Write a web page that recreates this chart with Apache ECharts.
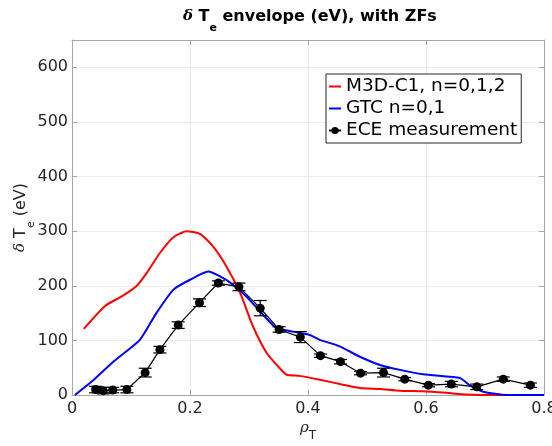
<!DOCTYPE html>
<html>
<head>
<meta charset="utf-8">
<script src="https://cdn.jsdelivr.net/npm/echarts@6/dist/echarts.min.js"></script>
<style>html,body{margin:0;padding:0;background:#fff}#c{width:552px;height:446px}</style>
</head>
<body>
<div id="c"></div>
<script>
// M3D-C1, n=0,1,2
var redX = [0.02,0.056,0.085,0.11,0.127,0.149,0.171,0.194,0.217,0.239,0.262,0.285,0.307,0.33,0.353,0.364,0.386,0.42,0.454,0.488,0.522,0.556,0.595,0.635,0.669,0.714,0.8];
var redY = [121,163,181,200,224,260,288,300,295,272,235,187,125,77,48,37,35,28,20,13,11,8,7,4,1,0,0];
// GTC n=0,1
var blueX = [0.005,0.036,0.07,0.115,0.143,0.172,0.2,0.231,0.251,0.273,0.296,0.319,0.345,0.375,0.403,0.42,0.454,0.488,0.522,0.556,0.595,0.635,0.658,0.675,0.697,0.737,0.8];
var blueY = [0,27,61,101,150,193,211,226,217,202,180,153,124,116,110,101,89,70,55,46,38,34,31,17,6,0,0];
// ECE measurement
var eceX = [0.04,0.053,0.069,0.093,0.124,0.149,0.18,0.216,0.248,0.283,0.319,0.351,0.387,0.421,0.455,0.489,0.528,0.564,0.604,0.643,0.686,0.731,0.777];
var eceY = [10,8,9,10,41,83,128,169,205,198,159,120,106,72,61,40,41,29,18,20,15,29,18];
var eceErr = [6,6,5,6,8,6,6,7,4,7,14,5,10,3,4,3,8,3,3,5,5,4,4];
var xTicks = [0,0.2,0.4,0.6,0.8];
var yTicks = [0,100,200,300,400,500,600];

var FONT = 'DejaVu Sans';
var AX = '#a8a8a8';
var TXT = '#262626';
function pairs(xs, ys){ return xs.map(function(x,i){ return [x, ys[i]]; }); }

var chart = echarts.init(document.getElementById('c'), null, {renderer:'canvas'});
var option = {
  animation: false,
  backgroundColor: '#fff',
  textStyle: {fontFamily: FONT},
  title: {
    left: 183, top: 9, padding: 0,
    text: '{d|δ}{b| T}{s|e}{b| envelope (eV), with ZFs}',
    textStyle: {
      rich: {
        d: {fontFamily: 'DejaVu Serif', fontStyle: 'italic', fontSize: 15, color: '#000', lineHeight: 25, verticalAlign: 'top'},
        b: {fontFamily: FONT, fontWeight: 'bold', fontSize: 16, color: '#000', lineHeight: 25, verticalAlign: 'top'},
        s: {fontFamily: FONT, fontWeight: 'bold', fontSize: 11, color: '#000', lineHeight: 25, verticalAlign: 'bottom'}
      }
    }
  },
  grid: {left: 72, right: 8, top: 40, bottom: 51, show: false, containLabel: false, outerBoundsMode: 'none'},
  legend: {
    orient: 'vertical', left: 326, top: 74,
    data: [
      {name: 'M3D-C1, n=0,1,2', itemStyle: {opacity: 0}},
      {name: 'GTC n=0,1', itemStyle: {opacity: 0}},
      {name: 'ECE measurement'}
    ],
    backgroundColor: '#fff', borderColor: '#262626', borderWidth: 1, borderRadius: 0,
    padding: [2, 4, 2, 2], itemGap: 1, itemWidth: 12, itemHeight: 9,
    textStyle: {fontFamily: FONT, fontSize: 18.5, color: '#000', lineHeight: 21}
  },
  xAxis: [{
    type: 'value', min: 0, max: 0.8, interval: 0.2,
    name: '{i|ρ}{s|T}', nameLocation: 'middle', nameGap: 26, nameMoveOverlap: false,
    nameTextStyle: {rich: {
      i: {fontFamily: 'DejaVu Serif', fontStyle: 'italic', fontSize: 15, color: TXT, lineHeight: 21, verticalAlign: 'top'},
      s: {fontFamily: FONT, fontSize: 12, color: TXT, lineHeight: 21, verticalAlign: 'bottom'}
    }},
    axisLine: {show: true, lineStyle: {color: AX, width: 1}},
    axisTick: {show: true, inside: true, length: 5, lineStyle: {color: AX}},
    axisLabel: {fontFamily: FONT, fontSize: 16, color: TXT, margin: 6,
      formatter: function(v){ return xTicks.indexOf(Math.round(v*10)/10) >= 0 ? String(Math.round(v*10)/10) : ''; }},
    splitLine: {show: true, lineStyle: {color: '#ececec', width: 1}}
  }, {
    type: 'value', min: 0, max: 0.8, interval: 0.2, position: 'top', gridIndex: 0,
    axisLine: {show: true, onZero: false, lineStyle: {color: AX, width: 1}},
    axisTick: {show: true, inside: true, length: 5, lineStyle: {color: AX}},
    axisLabel: {show: false}, splitLine: {show: false}
  }],
  yAxis: [{
    type: 'value', min: 0, max: 650, interval: 100,
    name: '{d|δ}{b| T}{s|e}{b| (eV)}', nameLocation: 'middle', nameGap: 35, nameRotate: 90, nameMoveOverlap: false,
    nameTextStyle: {rich: {
      d: {fontFamily: 'DejaVu Serif', fontStyle: 'italic', fontSize: 15, color: TXT, lineHeight: 24, verticalAlign: 'top'},
      b: {fontFamily: FONT, fontSize: 16, color: TXT, lineHeight: 24, verticalAlign: 'top'},
      s: {fontFamily: FONT, fontSize: 11, color: TXT, lineHeight: 24, verticalAlign: 'bottom'}
    }},
    axisLine: {show: true, lineStyle: {color: AX, width: 1}},
    axisTick: {show: true, inside: true, length: 5, lineStyle: {color: AX}},
    axisLabel: {fontFamily: FONT, fontSize: 16, color: TXT, margin: 4, showMaxLabel: false,
      formatter: function(v){ return yTicks.indexOf(v) >= 0 ? String(v) : ''; }},
    splitLine: {show: true, lineStyle: {color: '#ececec', width: 1}}
  }, {
    type: 'value', min: 0, max: 650, interval: 100, position: 'right',
    axisLine: {show: true, onZero: false, lineStyle: {color: AX, width: 1}},
    axisTick: {show: true, inside: true, length: 5, lineStyle: {color: AX}},
    axisLabel: {show: false}, splitLine: {show: false}
  }],
  series: [
    {
      name: 'M3D-C1, n=0,1,2', type: 'line', symbol: 'none', smooth: 0.2,
      data: pairs(redX, redY), color: '#ff0000',
      lineStyle: {color: '#ff0000', width: 2}, z: 3
    },
    {
      name: 'GTC n=0,1', type: 'line', symbol: 'none', smooth: 0.2,
      data: pairs(blueX, blueY), color: '#0000ff',
      lineStyle: {color: '#0000ff', width: 2}, z: 4
    },
    {
      type: 'custom', z: 5, silent: true,
      data: eceX.map(function(x,i){ return [x, eceY[i] - eceErr[i], eceY[i] + eceErr[i]]; }),
      renderItem: function(params, api){
        var lo = api.coord([api.value(0), api.value(1)]);
        var hi = api.coord([api.value(0), api.value(2)]);
        var hw = 6.5;
        var st = {stroke: '#000', lineWidth: 1.2};
        return {type: 'group', children: [
          {type: 'line', shape: {x1: lo[0], y1: lo[1], x2: hi[0], y2: hi[1]}, style: st},
          {type: 'line', shape: {x1: lo[0]-hw, y1: lo[1], x2: lo[0]+hw, y2: lo[1]}, style: st},
          {type: 'line', shape: {x1: hi[0]-hw, y1: hi[1], x2: hi[0]+hw, y2: hi[1]}, style: st}
        ]};
      },
      encode: {x: 0, y: [1, 2]}
    },
    {
      name: 'ECE measurement', type: 'line', symbol: 'circle', symbolSize: 9, showAllSymbol: true,
      data: pairs(eceX, eceY), color: '#000',
      lineStyle: {color: '#000', width: 1.2}, itemStyle: {color: '#000'}, z: 6
    }
  ]
};
chart.setOption(option);
</script>
</body>
</html>
